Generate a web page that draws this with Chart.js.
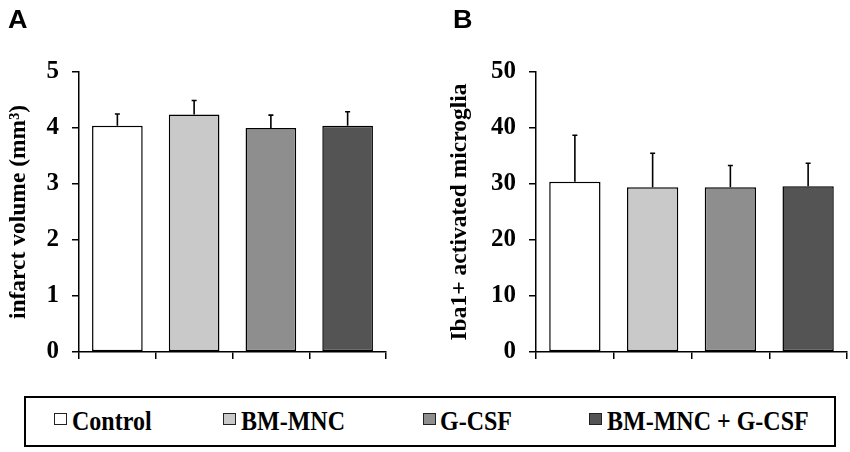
<!DOCTYPE html>
<html>
<head>
<meta charset="utf-8">
<script src="https://cdn.jsdelivr.net/npm/chart.js@4.4.1/dist/chart.umd.min.js"></script>
<style>
  html, body { margin: 0; padding: 0; background: #fff; }
  #wrap { position: relative; width: 850px; height: 452px; overflow: hidden; background: #fff; }
  .panel { position: absolute; top: 0; width: 425px; height: 380px; }
  .plabel { position: absolute; top: 6px; font: bold 25px "Liberation Sans", Arial, sans-serif; line-height: 26px; color: #000; transform: scaleX(1.08); transform-origin: 0 0; }
  #legend { position: absolute; left: 24px; top: 396px; width: 812px; height: 51px; box-sizing: border-box; border: 2px solid #000; }
  .sw { position: absolute; top: 413px; width: 11px; height: 10px; border: 1px solid #222; }
  .lt { position: absolute; top: 409px; font: bold 24px "Liberation Serif", "Times New Roman", serif; line-height: 24px; color: #000; white-space: nowrap; transform: scaleY(1.12); transform-origin: 0 50%; }
</style>
</head>
<body>
<div id="wrap">
  <div class="panel" style="left:0"><canvas id="cA" width="425" height="380"></canvas></div>
  <div class="panel" style="left:425px"><canvas id="cB" width="425" height="380"></canvas></div>
  <div class="plabel" style="left:8px">A</div>
  <div class="plabel" style="left:453px">B</div>
  <div id="legend"></div>
</div>
<script>
// ---- data ----
const categories = ["Control", "BM-MNC", "G-CSF", "BM-MNC + G-CSF"];
const barColors = ["#ffffff", "#c9c9c9", "#8e8e8e", "#545454"];
const volumeMean = [4.04, 4.24, 4.00, 4.04];
const volumeErr = [0.21, 0.25, 0.23, 0.25];
const microgliaMean = [30.4, 29.4, 29.4, 29.6];
const microgliaErr = [8.3, 6.1, 3.9, 4.1];
const volumeTicks = [0, 1, 2, 3, 4, 5];
const microgliaTicks = [0, 10, 20, 30, 40, 50];

// ---- legend (HTML, real text) ----
const legendSwatchX = [54, 223, 423, 589];
const legendTextX = [72, 241, 440, 607];
const wrap = document.getElementById('wrap');
categories.forEach((c, i) => {
  const sw = document.createElement('div');
  sw.className = 'sw';
  sw.style.left = legendSwatchX[i] + 'px';
  sw.style.background = barColors[i];
  wrap.appendChild(sw);
  const t = document.createElement('div');
  t.className = 'lt';
  t.style.left = legendTextX[i] + 'px';
  t.textContent = c;
  wrap.appendChild(t);
});

// ---- error bar plugin ----
const errorBars = {
  id: 'errorBars',
  afterDatasetsDraw(chart, args, opts) {
    const meta = chart.getDatasetMeta(0);
    const ys = chart.scales.y;
    const ds = chart.data.datasets[0];
    const ctx = chart.ctx;
    ctx.save();
    ctx.strokeStyle = '#000';
    ctx.lineWidth = 1.6;
    meta.data.forEach((el, i) => {
      const v = ds.data[i];
      const e = opts.errors[i];
      const yTop = ys.getPixelForValue(v + e);
      ctx.beginPath();
      ctx.moveTo(el.x, el.y);
      ctx.lineTo(el.x, yTop);
      ctx.moveTo(el.x - 2.5, yTop);
      ctx.lineTo(el.x + 2.5, yTop);
      ctx.stroke();
    });
    ctx.restore();
  }
};

const serif = "'Liberation Serif', 'Times New Roman', serif";

function makeChart(id, means, errs, ticks, title, axisX, rightX, titleCenter) {
  const max = ticks[ticks.length - 1];
  const step = ticks[1] - ticks[0];
  return new Chart(document.getElementById(id), {
    type: 'bar',
    data: {
      labels: categories,
      datasets: [{
        data: means,
        backgroundColor: barColors,
        borderColor: '#000',
        borderWidth: 1.5,
        borderSkipped: false,
        categoryPercentage: 1,
        barPercentage: 0.66
      }]
    },
    options: {
      responsive: false,
      animation: false,
      events: [],
      layout: { padding: { top: 72, right: 425 - rightX, bottom: 0, left: 0 } },
      plugins: {
        legend: { display: false },
        tooltip: { enabled: false },
        errorBars: { errors: errs }
      },
      scales: {
        x: {
          type: 'category',
          offset: true,
          grid: { offset: true, drawOnChartArea: false, drawTicks: true, tickLength: 7, color: '#000', lineWidth: 1.5 },
          border: { display: true, color: '#000', width: 1.5 },
          ticks: { callback: () => '' },
          afterFit(s) { s.height = 26; }
        },
        y: {
          min: 0,
          max: max,
          afterBuildTicks(s) { s.ticks = ticks.map(v => ({ value: v })); },
          ticks: {
            stepSize: step,
            color: '#000',
            padding: 13,
            font: { family: serif, size: 25, weight: 'bold' }
          },
          grid: { drawOnChartArea: false, drawTicks: true, tickLength: 7, color: '#000', lineWidth: 1.5 },
          border: { display: true, color: '#000', width: 1.5 },
          title: {
            display: true,
            text: title,
            color: '#000',
            font: { family: serif, size: 23.5, weight: 'bold' },
            padding: { top: titleCenter - 14.1, bottom: 0 }
          },
          afterFit(s) { s.width = axisX; }
        }
      }
    },
    plugins: [errorBars]
  });
}

makeChart('cA', volumeMean, volumeErr, volumeTicks, 'infarct volume (mm³)', 79, 386, 19);
makeChart('cB', microgliaMean, microgliaErr, microgliaTicks, 'Iba1+ activated microglia', 111, 422, 35);
</script>
</body>
</html>
